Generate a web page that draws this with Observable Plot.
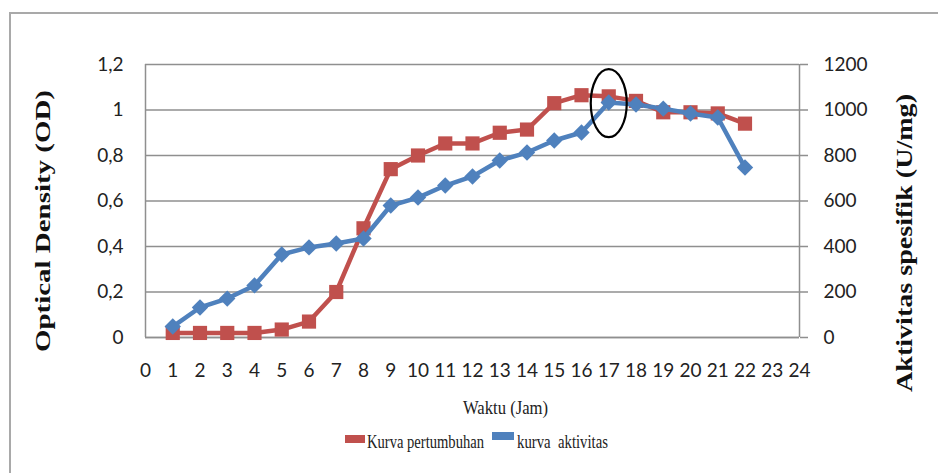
<!DOCTYPE html>
<html><head><meta charset="utf-8">
<script src="https://cdn.jsdelivr.net/npm/d3@7"></script>
<script src="https://cdn.jsdelivr.net/npm/@observablehq/plot@0.6"></script>
<style>body{margin:0;background:#fff;overflow:hidden}</style>
</head><body><div id="chart"></div>
<script>
// Data
const hours = [1,2,3,4,5,6,7,8,9,10,11,12,13,14,15,16,17,18,19,20,21,22];
const opticalDensity = [0.02,0.02,0.02,0.02,0.035,0.07,0.2,0.48,0.74,0.8,0.853,0.853,0.9,0.914,1.03,1.065,1.06,1.04,0.99,0.99,0.985,0.94];
const activity = [48,132,171,229,365,396,413,435,580,615,668,708,778,813,866,901,1033,1024,1006,985,967,747];
const xTicks = [0,1,2,3,4,5,6,7,8,9,10,11,12,13,14,15,16,17,18,19,20,21,22,23,24];
const odTicks = [0,0.2,0.4,0.6,0.8,1,1.2];
const activityTicks = [0,200,400,600,800,1000,1200];
const highlight = [{hour: 17, od: 1.03}];

const red = "#C0504D", blue = "#4F81BD", grid = "#8f8f8f";
const rows = hours.map((h, i) => ({hour: h, od: opticalDensity[i], act: activity[i]}));
const actToOd = v => v / 1000;

const ellipse = {
  draw(ctx) {
    const a = 18, b = 34, k = 0.5523;
    ctx.moveTo(a, 0);
    ctx.bezierCurveTo(a, b * k, a * k, b, 0, b);
    ctx.bezierCurveTo(-a * k, b, -a, b * k, -a, 0);
    ctx.bezierCurveTo(-a, -b * k, -a * k, -b, 0, -b);
    ctx.bezierCurveTo(a * k, -b, a, -b * k, a, 0);
    ctx.closePath();
  }
};

const chart = Plot.plot({
  width: 938, height: 473,
  marginLeft: 145, marginRight: 139, marginTop: 64, marginBottom: 136,
  style: {fontFamily: "Lato, sans-serif", fontSize: "19px", color: "#222", background: "#fff"},
  x: {domain: [0, 24]},
  y: {domain: [0, 1.2]},
  marks: [
    Plot.gridY(odTicks, {stroke: grid, strokeOpacity: 1, strokeWidth: 1.5}),
    Plot.ruleX([0, 24], {stroke: grid, strokeWidth: 1.5}),
    Plot.ruleY([0], {stroke: grid, strokeWidth: 1.5}),
    Plot.axisY(odTicks, {anchor: "left", tickSize: 0, tickPadding: 22, label: null,
      tickFormat: d => String(d).replace(".", ","), fontSize: 19, fill: "#222"}),
    Plot.axisY(odTicks, {anchor: "right", tickSize: 8, tickPadding: 16, label: null, stroke: grid, strokeWidth: 1.5,
      tickFormat: d => String(activityTicks[odTicks.indexOf(d)]), fontSize: 19, fill: "#222"}),
    Plot.axisX(xTicks, {tickSize: 0, tickPadding: 26, label: null, fontSize: 19, fill: "#222"}),
    Plot.line(rows, {x: "hour", y: "od", stroke: red, strokeWidth: 4.5}),
    Plot.dot(rows, {x: "hour", y: "od", symbol: "square", r: 8, fill: red}),
    Plot.line(rows, {x: "hour", y: d => actToOd(d.act), stroke: blue, strokeWidth: 4.5}),
    Plot.dot(rows, {x: "hour", y: d => actToOd(d.act), symbol: "diamond2", r: 7.4, fill: blue}),
    Plot.dot(highlight, {x: "hour", y: "od", symbol: ellipse, r: 10, fill: "none", stroke: "#000", strokeWidth: 2.2})
  ]
});

const svg = d3.select(chart);
svg.insert("rect", ":first-child").attr("x", 10).attr("y", 13).attr("width", 1000).attr("height", 600)
  .attr("fill", "none").attr("stroke", "#a9a9a9").attr("stroke-width", 2);

svg.append("text").attr("transform", "translate(50,221) rotate(-90)")
  .attr("text-anchor", "middle").attr("font-family", "Liberation Serif, serif").attr("font-weight", "bold")
  .attr("font-size", 22).attr("fill", "#111").attr("textLength", 262).attr("lengthAdjust", "spacingAndGlyphs")
  .text("Optical Density (OD)");
svg.append("text").attr("transform", "translate(912,243) rotate(-90)")
  .attr("text-anchor", "middle").attr("font-family", "Liberation Serif, serif").attr("font-weight", "bold")
  .attr("font-size", 23).attr("fill", "#111").attr("textLength", 298).attr("lengthAdjust", "spacingAndGlyphs")
  .text("Aktivitas spesifik (U/mg)");
svg.append("text").attr("x", 463).attr("y", 414).attr("text-anchor", "start")
  .attr("font-family", "Liberation Serif, serif").attr("font-size", 18).attr("fill", "#222")
  .attr("textLength", 85).attr("lengthAdjust", "spacingAndGlyphs").text("Waktu (Jam)");

const legend = [
  {label: "Kurva pertumbuhan", color: red, sx: 345, sy: 435, sw: 20, tx: 367, tl: 117},
  {label: "kurva  aktivitas", color: blue, sx: 492, sy: 432, sw: 22, tx: 517, tl: 91}
];
for (const l of legend) {
  svg.append("rect").attr("x", l.sx).attr("y", l.sy).attr("width", l.sw).attr("height", 8).attr("fill", l.color);
  svg.append("text").attr("x", l.tx).attr("y", 448).attr("text-anchor", "start")
    .attr("font-family", "Liberation Serif, serif").attr("font-size", 19).attr("fill", "#222")
    .attr("textLength", l.tl).attr("lengthAdjust", "spacingAndGlyphs").text(l.label);
}

document.getElementById("chart").appendChild(chart);
</script>
</body></html>
